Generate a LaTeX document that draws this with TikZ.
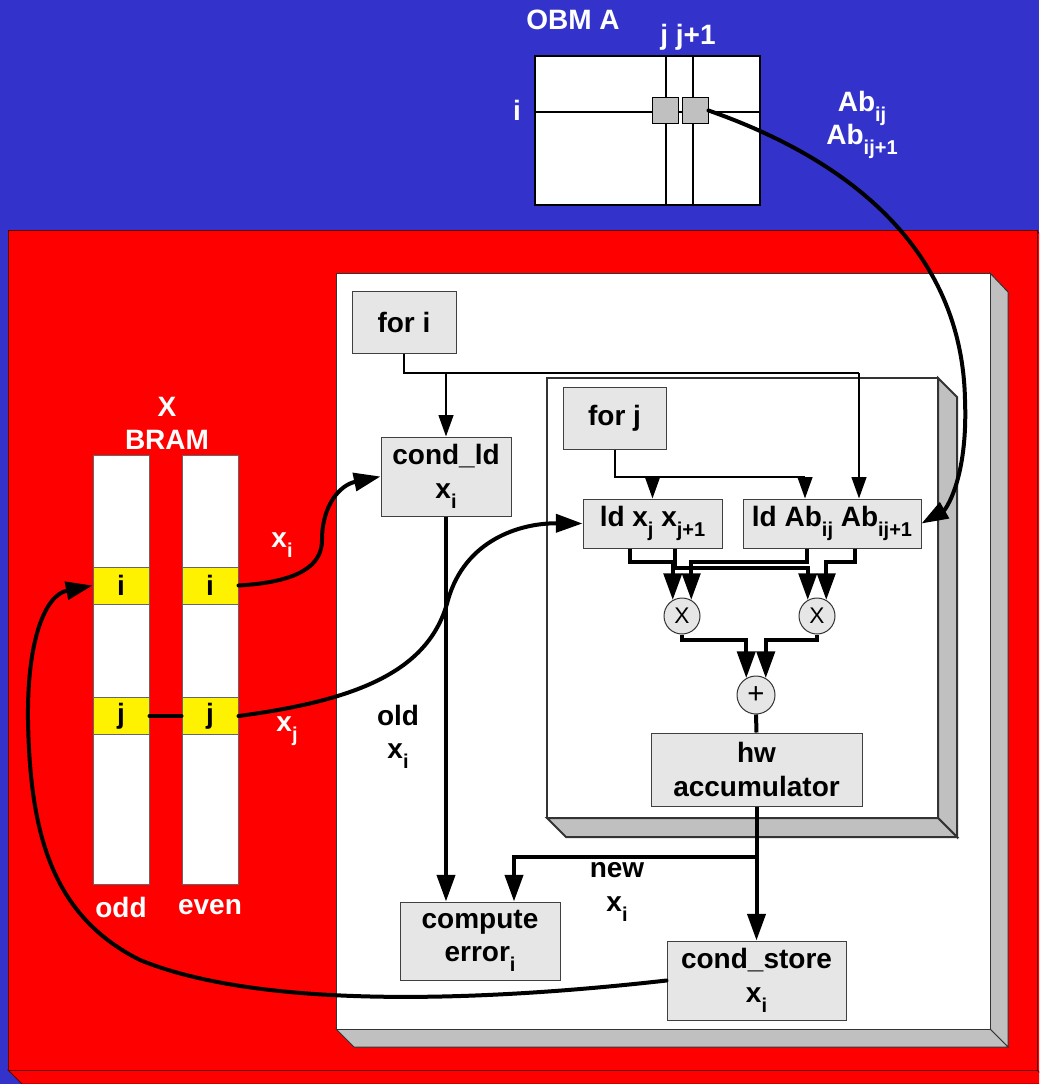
\documentclass[tikz,border=0pt]{standalone}
\usepackage{fontspec}
\setmainfont{Liberation Sans}
\usetikzlibrary{arrows.meta}
\definecolor{bgblue}{RGB}{51,51,204}
\definecolor{panelred}{RGB}{255,0,0}
\definecolor{boxgray}{RGB}{230,230,230}
\definecolor{sidegray}{RGB}{192,192,192}
\newcommand{\bfont}{\bfseries\fontsize{21pt}{25pt}\selectfont}
\newcommand{\sbs}[1]{\raisebox{-7.5pt}{\fontsize{15pt}{15pt}\selectfont #1}}
\begin{document}
\begin{tikzpicture}[x=0.75pt,y=-0.75pt,
  box/.style={draw=black!75, line width=0.75pt, fill=boxgray, inner sep=0pt, align=center, font=\bfont},
  lbl/.style={text=white, font=\bfont, inner sep=0pt, align=center},
  col/.style={draw=black!60, line width=0.75pt, fill=white, inner sep=0pt, minimum width=42pt, minimum height=321.75pt},
  cell/.style={draw=black!60, line width=0.75pt, fill=yellow, inner sep=0pt, minimum width=42pt, minimum height=27.75pt, font=\bfont},
  op/.style={circle, draw=black!80, line width=0.75pt, fill=boxgray, inner sep=0pt, font=\fontsize{17pt}{17pt}\selectfont},
  thinw/.style={line width=1.5pt},
  wire/.style={line width=3pt},
  arrs/.style={-{Triangle[length=16pt,width=11pt]}},
  arrb/.style={-{Triangle[length=20pt,width=13.5pt]}},
  panel/.style={draw=black!80, line width=0.75pt}
]
\useasboundingbox (0,0) rectangle (1039,1084);
\clip (0,0) rectangle (1039,1084);
% background
\fill[bgblue] (0,0) rectangle (1039,1084);
% red panel
\filldraw[fill=panelred, draw=black!60!red, line width=0.75pt] (1037,231) -- (1051,245) -- (1051,1084) -- (1037,1070) -- cycle;
\filldraw[fill=panelred, draw=black!60!red, line width=0.75pt] (8,1070) -- (1037,1070) -- (1051,1084) -- (22,1084) -- cycle;
\filldraw[fill=panelred, draw=black!60!red, line width=0.75pt] (8,231) rectangle (1037,1070);
% white panel
\filldraw[fill=sidegray, panel] (990,273) -- (1008,292) -- (1008,1047) -- (990,1029) -- cycle;
\filldraw[fill=sidegray, panel] (336,1029) -- (990,1029) -- (1008,1047) -- (354,1047) -- cycle;
\filldraw[fill=white, panel] (336,273) rectangle (990,1029);
% inner box
\filldraw[fill=sidegray, panel, line width=1.5pt] (938,378) -- (957,397) -- (957,837) -- (938,818) -- cycle;
\filldraw[fill=sidegray, panel, line width=1.5pt] (547,818) -- (938,818) -- (957,837) -- (566,837) -- cycle;
\filldraw[fill=white, panel, line width=1.5pt] (547,378) rectangle (938,818);

% OBM A
\filldraw[fill=white, draw=black, line width=2pt] (535,56) rectangle (760,205);
\draw[line width=2pt] (666,56) -- (666,205) (693,56) -- (693,205) (535,112) -- (760,112);
\node[draw=black, line width=0.75pt, fill=sidegray, minimum size=19.5pt, inner sep=0pt] (sq1) at (665,110.5) {};
\node[draw=black, line width=0.75pt, fill=sidegray, minimum size=19.5pt, inner sep=0pt] (sq2) at (695,110.5) {};
\node[lbl] (obm) at (573,20) {OBM A};
\node[lbl] (jj) at (688,37) {j j+1};
\node[lbl] (ilab) at (517,110) {i};
\node[lbl] (ab1) at (862,108) {Ab\sbs{ij}};
\node[lbl] (ab2) at (862,141) {Ab\sbs{ij+1}};

% BRAM
\node[lbl] (xl) at (167,407) {X};
\node[lbl] (bram) at (167,440) {BRAM};
\node[col] (oddcol) at (121,669.5) {};
\node[col] (evencol) at (210,669.5) {};
\node[cell] (oi) at (121,585.5) {i};
\node[cell] (ei) at (210,585.5) {i};
\node[cell] (oj) at (121,716) {j};
\node[cell] (ej) at (210,716) {j};
\node[lbl] (odd) at (121,907) {odd};
\node[lbl] (even) at (210,907) {even};
\draw[wire, line cap=round] (oj.east) -- (ej.west);
\node[lbl] (xil) at (282,545) {x\sbs{i}};
\node[lbl] (xjl) at (287,731) {x\sbs{j}};

% boxes
\node[box, minimum width=78pt, minimum height=46.5pt] (fori) at (404,322) {for i};
\node[box, minimum width=97.5pt, minimum height=59.25pt] (condld) at (446,476.5) {cond\_ld\\x\sbs{i}};
\node[box, minimum width=77.25pt, minimum height=46.5pt] (forj) at (614.5,418) {for j};
\node[box, minimum width=104.25pt, minimum height=36.75pt] (ldx) at (652.5,523.5) {ld x\sbs{j} x\sbs{j+1}};
\node[box, minimum width=133.5pt, minimum height=36.75pt] (ldab) at (832,523.5) {ld Ab\sbs{ij} Ab\sbs{ij+1}};
\node[op, minimum size=27pt] (m1) at (682,616) {X};
\node[op, minimum size=27pt] (m2) at (817,616) {X};
\node[op, minimum size=28.5pt, font=\fontsize{22pt}{22pt}\selectfont] (plus) at (756,695) {+};
\node[box, minimum width=158.25pt, minimum height=54.75pt] (hw) at (756.5,769.5) {hw\\accumulator};
\node[box, minimum width=120pt, minimum height=58.5pt] (ce) at (480,941) {compute\\error\sbs{i}};
\node[box, minimum width=134.25pt, minimum height=59.25pt] (cs) at (756.5,980.5) {cond\_store\\x\sbs{i}};
\node[text=black, font=\bfont, inner sep=0pt, align=center] (oldl) at (398,737) {old\\x\sbs{i}};
\node[text=black, font=\bfont, inner sep=0pt, align=center] (newl) at (617,892) {new\\x\sbs{i}};

% for i wiring
\coordinate (fi) at (446,373);
\coordinate (fiR) at (859,373);
\draw[thinw] (fori.south) |- (fiR);
\draw[thinw, arrs] (fi) -- (condld.north);
\draw[thinw, arrs] (fiR) -- (fiR |- ldab.north);
% for j wiring
\coordinate (fjL) at (652.5,477);
\coordinate (fjR) at (805,477);
\draw[thinw] (forj.south) |- (fjR);
\draw[thinw, arrs] (fjL) -- (ldx.north);
\draw[thinw, arrs] (fjR) -- (fjR |- ldab.north);

% multiplier wiring
\draw[wire, arrb] ([xshift=-16.875pt]ldx.south) -- ++(0,13) -| (m1.120);
\draw[wire, arrb] ([xshift=16.875pt]ldx.south) -- ++(0,19) -| (m2.120);
\draw[wire, arrb] ([xshift=-18.75pt]ldab.south) -- ++(0,13) -| (m1.60);
\draw[wire, arrb] ([xshift=17.25pt]ldab.south) -- ++(0,13) -| (m2.60);
\draw[wire, arrb] (m1.south) -- ++(0,5) -| (plus.120);
\draw[wire, arrb] (m2.south) -- ++(0,5) -| (plus.60);
\draw[wire] (plus.south) -- (hw.north);
\coordinate (br) at (756.5,857);
\draw[wire] (hw.south) -- (br);
\draw[wire, arrb] (br) -- (cs.north);
\draw[wire, arrb] (br) -| ([xshift=25.5pt]ce.north);
\draw[wire, arrb] (condld.south) -- ([xshift=-25.5pt]ce.north);

% curves
\draw[wire, arrb, line cap=round] (sq2.east) .. controls (850,160) and (962,250) .. (965,400) .. controls (968,480) and (945,510) .. (ldab.east);
\draw[wire, arrb, line cap=round] (ei.east) .. controls (300,582) and (322,565) .. (322,540) .. controls (322,505) and (340,485) .. (condld.west);
\draw[wire, arrb, line cap=round] (ej.east) .. controls (360,700) and (430,670) .. (448,600) .. controls (465,540) and (520,523) .. (ldx.west);
\draw[wire, arrb, line cap=round] (cs.west) .. controls (450,1005) and (250,1005) .. (140,960) .. controls (50,915) and (30,830) .. (28,720) .. controls (27,640) and (45,595) .. (oi.west);
\end{tikzpicture}
\end{document}
